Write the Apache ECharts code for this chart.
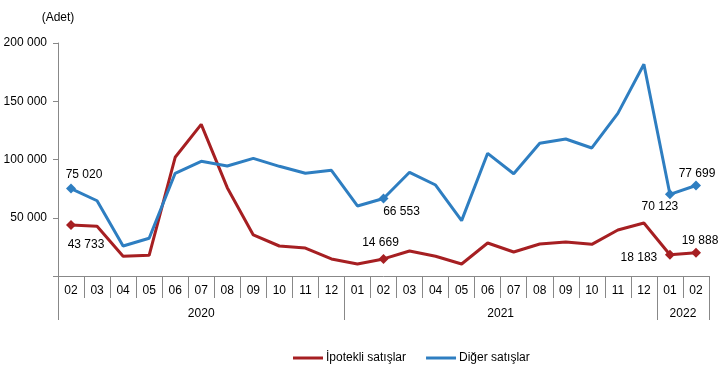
<!DOCTYPE html>
<html>
<head>
<meta charset="utf-8">
<script src="https://cdn.jsdelivr.net/npm/echarts@6/dist/echarts.min.js"></script>
<style>html,body{margin:0;padding:0;background:#fff;}#c{width:722px;height:388px;}</style>
</head>
<body>
<div id="c"></div>
<script>
const months = ['02','03','04','05','06','07','08','09','10','11','12','01','02','03','04','05','06','07','08','09','10','11','12','01','02'];
const yearLabels = ['2020','2021','2022'];
const mortgage = [43733, 42650, 16900, 17750, 101900, 130200, 75800, 35200, 25750, 24000, 14600, 10300, 14669, 21460, 16900, 10300, 28300, 20600, 27500, 29200, 27200, 39500, 45500, 18183, 19888];
const other = [75020, 64600, 25750, 32360, 88150, 98450, 94400, 101000, 94150, 88150, 90700, 60100, 66553, 89000, 78100, 47500, 105300, 87800, 113900, 117600, 109900, 139600, 181700, 70123, 77699];
const seriesNames = ['İpotekli satışlar', 'Diğer satışlar'];
const yTicks = [0, 50000, 100000, 150000, 200000];

const FONT = "'Liberation Sans', Arial, sans-serif";
const fmt = v => String(v).replace(/\B(?=(\d{3})+(?!\d))/g, ' ');

// label offsets (relative to the default 'top' placement) for highlighted points
const redLabels = {0: [15, 36], 12: [-3, 0], 23: [-31, 19], 24: [4, 4]};
const blueLabels = {0: [13, 2], 12: [18, 29], 23: [-10, 28], 24: [1, 4]};

function build(values, labels) {
  return values.map((v, i) => {
    if (labels[i]) {
      return {
        value: v, symbol: 'diamond', symbolSize: 10,
        label: {show: true, position: 'top', distance: 5, offset: labels[i], formatter: p => fmt(p.value),
                color: '#000', fontSize: 12, fontFamily: FONT}
      };
    }
    return {value: v, symbol: 'none'};
  });
}

// second-level axis (years) on half-band grid
const yearAxisData = new Array(51).fill('');
yearAxisData[11] = yearLabels[0];
yearAxisData[34] = yearLabels[1];
yearAxisData[48] = yearLabels[2];
const yearTickIdx = [0, 22, 46, 50];

const chart = echarts.init(document.getElementById('c'), null, {renderer: 'canvas'});
chart.setOption({
  animation: false,
  textStyle: {fontFamily: FONT},
  grid: {left: 58, right: 13, top: 43, bottom: 112, containLabel: false},
  legend: {
    left: 293, top: 352, padding: 0, itemGap: 20, itemWidth: 30, itemHeight: 3, icon: 'rect',
    textStyle: {fontSize: 12, color: '#000', fontFamily: FONT, padding: [0, 0, 0, -2]},
    data: seriesNames
  },
  xAxis: [
    {
      type: 'category', data: months, boundaryGap: true,
      axisLine: {show: true, lineStyle: {color: '#888', width: 1}},
      axisTick: {show: true, interval: 0, length: 22, lineStyle: {color: '#888'}},
      axisLabel: {interval: 0, margin: 9, fontSize: 12, color: '#000', fontFamily: FONT}
    },
    {
      type: 'category', data: yearAxisData, boundaryGap: false, position: 'bottom',
      axisLine: {show: false},
      axisTick: {show: true, length: 44, interval: (idx) => yearTickIdx.includes(idx), lineStyle: {color: '#888'}},
      axisLabel: {interval: 0, margin: 32, fontSize: 12, color: '#000', fontFamily: FONT}
    }
  ],
  yAxis: {
    type: 'value', min: yTicks[0], max: yTicks[yTicks.length - 1], interval: 50000,
    name: '(Adet)', nameLocation: 'end', nameGap: 19,
    nameTextStyle: {fontSize: 12, color: '#000', fontFamily: FONT, align: 'center', verticalAlign: 'bottom'},
    axisLine: {show: true, lineStyle: {color: '#888'}},
    axisTick: {show: true, length: 5, lineStyle: {color: '#888'}},
    splitLine: {show: false},
    axisLabel: {margin: 11, fontSize: 12, color: '#000', fontFamily: FONT, formatter: v => v === 0 ? '' : fmt(v)}
  },
  series: [
    {
      name: seriesNames[0], type: 'line', xAxisIndex: 0, data: build(mortgage, redLabels),
      lineStyle: {color: '#A61F22', width: 3}, itemStyle: {color: '#A61F22'}, color: '#A61F22',
      showSymbol: true
    },
    {
      name: seriesNames[1], type: 'line', xAxisIndex: 0, data: build(other, blueLabels),
      lineStyle: {color: '#2E7EC1', width: 3}, itemStyle: {color: '#2E7EC1'}, color: '#2E7EC1',
      showSymbol: true
    }
  ]
});
</script>
</body>
</html>
